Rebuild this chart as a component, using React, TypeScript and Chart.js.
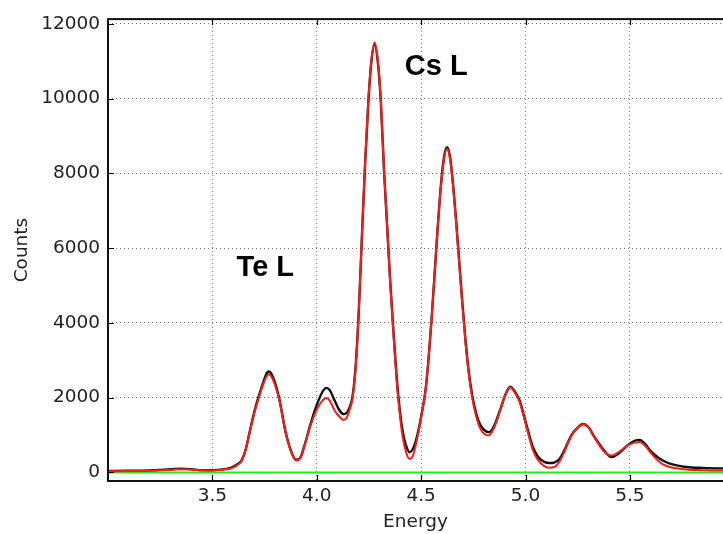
import React, { useEffect, useRef } from "react";
import { Chart, registerables } from "chart.js";

Chart.register(...registerables);

// Energy axis (keV)
const energy: number[] = [
  3.0, 3.1, 3.2, 3.3, 3.35, 3.4, 3.45, 3.5, 3.55, 3.59,
  3.62, 3.64, 3.66, 3.68, 3.7, 3.72, 3.74, 3.76, 3.771, 3.79,
  3.82, 3.85, 3.875, 3.9, 3.92, 3.94, 3.966, 3.99, 4.014, 4.03,
  4.046, 4.062, 4.086, 4.11, 4.129, 4.145, 4.158, 4.172, 4.187, 4.202,
  4.217, 4.232, 4.247, 4.262, 4.277, 4.292, 4.307, 4.322, 4.337, 4.352,
  4.367, 4.382, 4.397, 4.41, 4.43, 4.445, 4.46, 4.475, 4.49, 4.505,
  4.52, 4.535, 4.55, 4.565, 4.58, 4.595, 4.61, 4.624, 4.638, 4.653,
  4.668, 4.683, 4.698, 4.713, 4.728, 4.745, 4.765, 4.785, 4.805, 4.825,
  4.85, 4.88, 4.905, 4.927, 4.95, 4.972, 5.003, 5.035, 5.06, 5.09,
  5.115, 5.14, 5.163, 5.19, 5.22, 5.25, 5.275, 5.3, 5.33, 5.376,
  5.411, 5.44, 5.49, 5.52, 5.546, 5.575, 5.596, 5.63, 5.658, 5.7,
  5.77, 5.85, 5.944, 6.0,
];

// Measured spectrum (black)
const measured: number[] = [
  40, 45, 55, 85, 100, 85, 60, 60, 80, 130,
  220, 320, 620, 1120, 1600, 2000, 2350, 2650, 2700, 2550,
  1980, 1100, 600, 340, 380, 700, 1210, 1650, 2000, 2180,
  2260, 2200, 1920, 1650, 1560, 1600, 1750, 2050, 2900, 4400,
  6400, 8300, 9900, 11000, 11450, 11000, 9900, 8100, 6600, 5100,
  3800, 2600, 1700, 1150, 680, 540, 620, 850, 1200, 1650,
  2150, 3000, 4100, 5350, 6600, 7700, 8450, 8700, 8450, 7700,
  6700, 5600, 4500, 3500, 2700, 2050, 1550, 1250, 1120, 1075,
  1250, 1700, 2100, 2290, 2150, 1920, 1300, 680, 420, 280,
  250, 270, 360, 640, 1000, 1200, 1295, 1220, 950, 590,
  410, 480, 730, 840, 870, 750, 590, 420, 320, 220,
  145, 120, 107, 105,
];

// Fitted spectrum (red)
const fitted: number[] = [
  30, 35, 45, 70, 85, 75, 55, 50, 70, 110,
  200, 310, 620, 1100, 1570, 1950, 2300, 2570, 2620, 2480,
  1950, 1080, 580, 320, 380, 680, 1180, 1550, 1820, 1940,
  1990, 1920, 1650, 1480, 1400, 1480, 1680, 2000, 2850, 4400,
  6450, 8350, 9950, 11050, 11500, 11050, 9950, 8100, 6600, 5050,
  3750, 2500, 1600, 1000, 500, 360, 440, 750, 1150, 1620,
  2150, 3000, 4100, 5350, 6600, 7650, 8400, 8650, 8400, 7650,
  6650, 5550, 4450, 3450, 2650, 1980, 1470, 1150, 1020, 990,
  1200, 1680, 2100, 2280, 2120, 1880, 1250, 600, 330, 170,
  125, 150, 290, 600, 980, 1200, 1290, 1210, 930, 560,
  450, 520, 720, 790, 810, 700, 550, 340, 215, 130,
  75, 60, 50, 50,
];

// Zero line (green)
const zeroLine: number[] = energy.map(() => 0);

const xTicks: number[] = [3.5, 4.0, 4.5, 5.0, 5.5];
const yTicks: number[] = [0, 2000, 4000, 6000, 8000, 10000, 12000];

const labelTexts: string[] = ["Cs L", "Te L"];
const labelX: number[] = [4.4215, 3.616];
const labelY: number[] = [10634, 5254];

const toPts = (ys: number[]) => energy.map((x, i) => ({ x, y: ys[i] }));

const framePlugin = {
  id: "frameAndLabels",
  afterDatasetsDraw(chart: any) {
    const { ctx, chartArea, scales } = chart;
    const { left, top, right, bottom } = chartArea;
    ctx.save();
    // inward tick marks
    ctx.strokeStyle = "#000";
    ctx.lineWidth = 1.2;
    ctx.beginPath();
    xTicks.forEach((t) => {
      const px = Math.round(scales.x.getPixelForValue(t)) + 0.5;
      ctx.moveTo(px, bottom);
      ctx.lineTo(px, bottom - 6);
      ctx.moveTo(px, top);
      ctx.lineTo(px, top + 6);
    });
    yTicks.forEach((t) => {
      const py = Math.round(scales.y.getPixelForValue(t)) + 0.5;
      ctx.moveTo(left, py);
      ctx.lineTo(left + 6, py);
    });
    ctx.stroke();
    // frame
    ctx.lineWidth = 2;
    ctx.strokeStyle = "#111";
    ctx.strokeRect(left, top, right - left + 2, bottom - top);
    // annotations
    ctx.fillStyle = "#000";
    ctx.font = "bold 29px 'Liberation Sans', Arial, sans-serif";
    ctx.textAlign = "left";
    ctx.textBaseline = "alphabetic";
    labelTexts.forEach((t, i) => {
      ctx.fillText(t, scales.x.getPixelForValue(labelX[i]), scales.y.getPixelForValue(labelY[i]));
    });
    ctx.restore();
  },
};

export default function App() {
  const ref = useRef<HTMLCanvasElement | null>(null);
  useEffect(() => {
    if (!ref.current) return;
    const font = { family: "'DejaVu Sans', sans-serif", size: 18.5 };
    const gridStyle = {
      color: "rgba(0,0,0,0.55)",
      lineWidth: 1,
      drawTicks: false,
    };
    const chart = new Chart(ref.current, {
      type: "line",
      data: {
        datasets: [
          {
            data: toPts(fitted),
            borderColor: "#ff1a1a",
            borderWidth: 2,
            pointRadius: 0,
            cubicInterpolationMode: "monotone",
            order: 0,
          },
          {
            data: toPts(measured),
            borderColor: "#111",
            borderWidth: 2.4,
            pointRadius: 0,
            cubicInterpolationMode: "monotone",
            order: 1,
          },
          {
            data: toPts(zeroLine),
            borderColor: "#22ee22",
            borderWidth: 2,
            pointRadius: 0,
            order: 2,
          },
        ],
      },
      options: {
        animation: false,
        responsive: false,
        maintainAspectRatio: false,
        layout: { padding: { top: 17, left: 0, right: 0, bottom: 0 } },
        plugins: { legend: { display: false }, tooltip: { enabled: false } },
        scales: {
          x: {
            type: "linear",
            min: 3.0,
            max: 5.946,
            afterBuildTicks: (s: any) => {
              s.ticks = xTicks.map((v) => ({ value: v }));
            },
            afterFit: (s: any) => {
              s.height = 53;
            },
            grid: { ...gridStyle },
            border: { display: false, dash: [1, 3] },
            ticks: {
              font,
              color: "#222",
              padding: 4,
              maxRotation: 0,
              callback: (v: any) => Number(v).toFixed(1),
            },
            title: {
              display: true,
              text: "Energy",
              font,
              color: "#222",
              padding: { top: 0, bottom: 1 },
            },
          },
          y: {
            type: "linear",
            min: -230,
            max: 12125,
            afterBuildTicks: (s: any) => {
              s.ticks = yTicks.map((v) => ({ value: v }));
            },
            afterFit: (s: any) => {
              s.width = 108;
            },
            grid: { ...gridStyle },
            border: { display: false, dash: [1, 3] },
            ticks: {
              font,
              color: "#222",
              padding: 8,
              callback: (v: any) => String(v),
            },
            title: {
              display: true,
              text: "Counts",
              font,
              color: "#222",
              padding: { top: 11, bottom: 0 },
            },
          },
        },
      } as any,
      plugins: [framePlugin],
    });
    return () => chart.destroy();
  }, []);
  return (
    <div style={{ position: "absolute", left: 0, top: 0, width: 723, height: 534 }}>
      <canvas ref={ref} width={723} height={534} />
    </div>
  );
}
